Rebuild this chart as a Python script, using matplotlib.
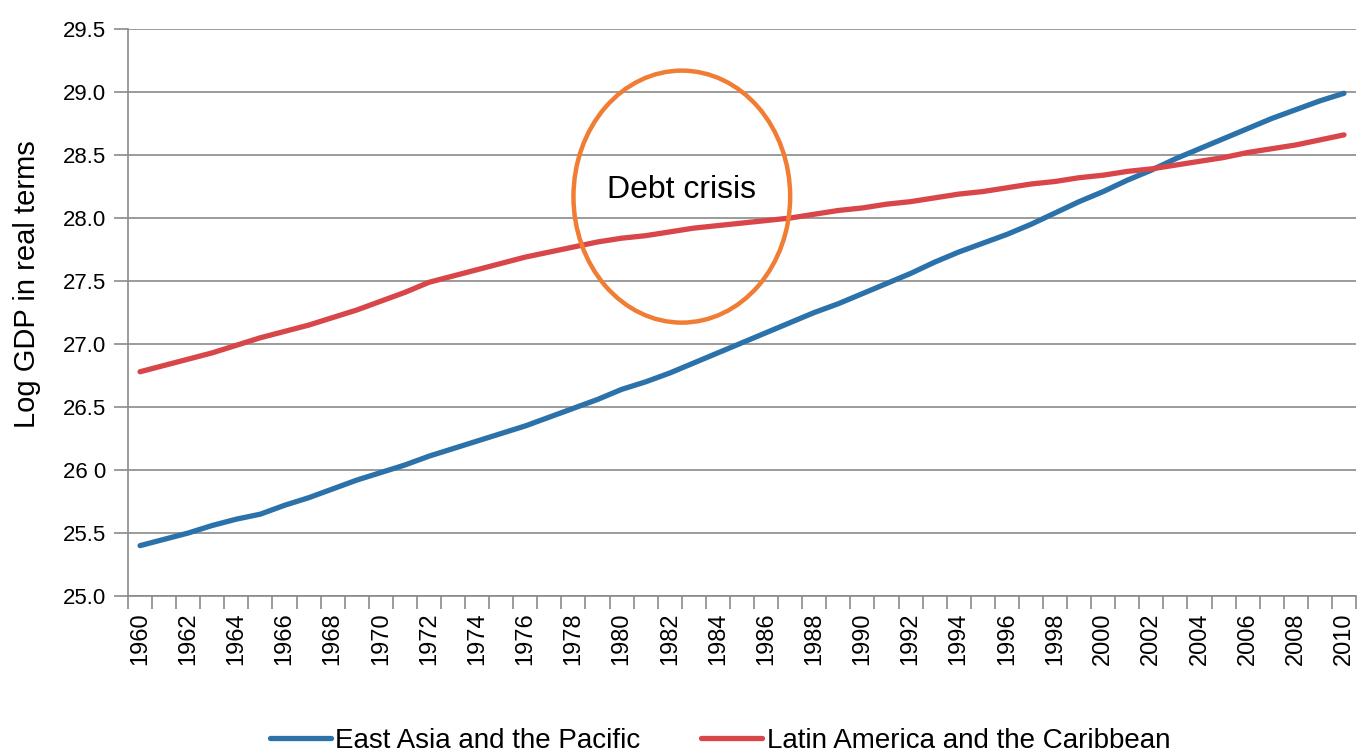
import matplotlib.pyplot as plt
import numpy as np
from matplotlib.patches import Ellipse

plt.rcParams['font.family'] = ['Liberation Sans', 'DejaVu Sans']

# -----------------------------
# DATA
# -----------------------------
years = list(range(1960, 2011))

east_asia = [
    25.40, 25.45, 25.50, 25.56, 25.61, 25.65, 25.72, 25.78, 25.85, 25.92,
    25.98, 26.04, 26.11, 26.17, 26.23, 26.29, 26.35, 26.42, 26.49, 26.56,
    26.64, 26.70, 26.77, 26.85, 26.93, 27.01, 27.09, 27.17, 27.25, 27.32,
    27.40, 27.48, 27.56, 27.65, 27.73, 27.80, 27.87, 27.95, 28.04, 28.13,
    28.21, 28.30, 28.38, 28.47, 28.55, 28.63, 28.71, 28.79, 28.86, 28.93,
    28.99,
]

latin_america = [
    26.78, 26.83, 26.88, 26.93, 26.99, 27.05, 27.10, 27.15, 27.21, 27.27,
    27.34, 27.41, 27.49, 27.54, 27.59, 27.64, 27.69, 27.73, 27.77, 27.81,
    27.84, 27.86, 27.89, 27.92, 27.94, 27.96, 27.98, 28.00, 28.03, 28.06,
    28.08, 28.11, 28.13, 28.16, 28.19, 28.21, 28.24, 28.27, 28.29, 28.32,
    28.34, 28.37, 28.39, 28.42, 28.45, 28.48, 28.52, 28.55, 28.58, 28.62,
    28.66,
]

y_ticks = [25.0, 25.5, 26.0, 26.5, 27.0, 27.5, 28.0, 28.5, 29.0, 29.5]
y_tick_labels = ["25.0", "25.5", "26 0", "26.5", "27.0", "27.5", "28.0", "28.5", "29.0", "29.5"]

crisis_label = "Debt crisis"
crisis_center = (1982.5, 28.17)
crisis_size = (9.0, 2.0)

# -----------------------------
# PLOT
# -----------------------------
grey = "#8a8a8a"
fig = plt.figure(figsize=(13.66, 7.56), dpi=100)
ax = fig.add_axes([0.0937, 0.2116, 0.899, 0.75])

x = np.arange(len(years))
ax.plot(x, east_asia, color="#2c72aa", lw=3.8, solid_capstyle="round",
        label="East Asia and the Pacific")
ax.plot(x, latin_america, color="#d9464a", lw=3.8, solid_capstyle="round",
        label="Latin America and the Caribbean")

# debt crisis circle
cx = years.index(int(crisis_center[0])) + (crisis_center[0] % 1)
ax.add_patch(Ellipse((cx, crisis_center[1]), crisis_size[0], crisis_size[1],
                     fill=False, edgecolor="#f07d33", lw=3.2, clip_on=False, zorder=5))
ax.text(cx, crisis_center[1] + 0.05, crisis_label, ha="center", va="center",
        fontsize=23, color="black", zorder=6)

ax.set_xlim(-0.5, len(years) - 0.5)
ax.set_ylim(25.0, 29.5)

ax.set_yticks(y_ticks)
ax.set_yticklabels(y_tick_labels)
ax.tick_params(axis="y", length=10, width=1.2, color=grey, labelsize=16, pad=6)
ax.yaxis.grid(True, color=grey, lw=1.2)
ax.set_axisbelow(True)

ax.set_xticks(x[::2])
ax.set_xticklabels([str(y) for y in years[::2]], rotation=90)
ax.set_xticks(np.arange(-0.5, len(years)), minor=True)
ax.tick_params(axis="x", which="major", length=0, labelsize=17, pad=12)
ax.tick_params(axis="x", which="minor", length=9, width=1.2, color=grey, direction="out")

for s in ["top", "right"]:
    ax.spines[s].set_visible(False)
for s in ["left", "bottom"]:
    ax.spines[s].set_color(grey)
    ax.spines[s].set_linewidth(1.2)

ax.set_ylabel("Log GDP in real terms", fontsize=21)
ax.yaxis.set_label_coords(-0.071, 0.55)

fig.legend(loc="center", bbox_to_anchor=(0.527, 0.02), ncol=2, frameon=False,
           fontsize=20, handlelength=2.2, handletextpad=0.15, columnspacing=2.2)

fig.savefig("out.png", dpi=100)
